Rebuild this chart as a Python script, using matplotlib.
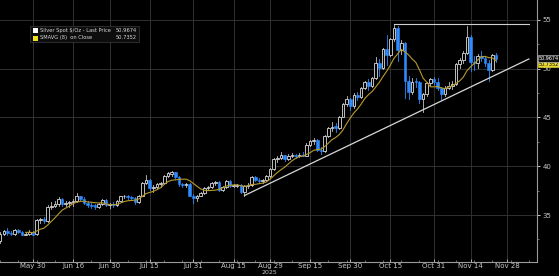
import numpy as np
import pandas as pd
import matplotlib
matplotlib.use("Agg")
import matplotlib.pyplot as plt
from matplotlib.patches import Rectangle

# ---------------- data ----------------
start_date = "2025-05-19"
end_date = "2025-11-25"

opens = [32.3, 33.1, 33.4, 33.2, 33.1, 33.5, 33.3, 33.0, 33.1, 33.3,
         33.1, 34.5, 34.6, 34.4, 35.8, 35.9, 36.1, 36.6, 36.1, 36.2,
         36.3, 36.4, 36.9, 36.6, 36.2, 36.0, 36.0, 35.8, 36.1, 36.5,
         36.0, 36.1, 36.0, 36.4, 36.9, 37.0, 36.8, 36.7, 36.3, 37.0,
         38.3, 38.6, 37.8, 37.9, 38.2, 38.3, 39.0, 39.2, 39.4, 38.9,
         38.2, 38.1, 38.2, 37.0, 36.7, 37.0, 37.3, 37.8, 37.9, 38.3,
         38.4, 37.6, 37.9, 38.5, 38.0, 38.0, 38.1, 37.4, 38.0, 38.1,
         38.9, 38.6, 38.5, 38.6, 39.0, 39.7, 40.7, 40.8, 41.2, 40.7,
         41.1, 41.2, 41.0, 41.2, 41.1, 42.2, 42.6, 42.7, 41.7, 41.6,
         43.1, 43.9, 44.1, 43.9, 45.1, 46.4, 46.9, 46.2, 47.3, 47.1,
         48.0, 48.6, 48.2, 49.0, 50.6, 50.1, 52.0, 51.4, 53.0, 54.2,
         51.9, 52.6, 48.7, 47.6, 48.7, 48.6, 46.9, 47.4, 48.5, 48.9,
         48.6, 48.0, 47.4, 48.0, 48.2, 48.4, 50.5, 50.9, 51.6, 53.3,
         50.7, 50.6, 51.3, 51.1, 50.6, 49.9, 51.4]
highs = [33.3, 33.5, 33.7, 33.4, 33.6, 33.6, 33.4, 33.3, 33.5, 33.4,
         34.6, 34.7, 34.8, 36.0, 36.3, 36.4, 36.8, 36.7, 36.4, 36.4,
         36.6, 37.3, 37.0, 36.8, 36.4, 36.3, 36.1, 36.2, 36.6, 36.6,
         36.2, 36.3, 36.5, 37.0, 37.1, 37.1, 37.0, 36.8, 37.1, 38.4,
         39.1, 38.7, 38.1, 38.3, 38.4, 39.1, 39.4, 39.5, 39.4, 39.0,
         38.3, 38.3, 38.3, 37.2, 37.1, 37.4, 37.9, 38.0, 38.4, 38.5,
         38.5, 38.0, 38.6, 38.6, 38.2, 38.2, 38.2, 38.1, 38.3, 39.0,
         39.0, 38.8, 38.7, 39.1, 39.8, 40.8, 41.0, 41.5, 41.2, 41.3,
         41.4, 41.3, 41.4, 41.5, 42.4, 42.7, 42.9, 42.8, 42.0, 43.2,
         44.0, 44.5, 44.4, 45.2, 46.5, 47.2, 47.0, 47.5, 47.6, 48.1,
         48.7, 48.9, 49.2, 51.2, 51.0, 52.1, 53.5, 53.2, 54.5, 54.4,
         52.9, 52.7, 49.3, 49.0, 49.0, 48.7, 47.5, 48.6, 49.1, 49.2,
         49.0, 48.1, 48.2, 48.6, 48.7, 50.6, 51.1, 51.8, 54.4, 53.5,
         51.3, 51.5, 51.8, 51.3, 50.9, 51.5, 51.6]
lows = [32.1, 33.0, 33.0, 32.9, 33.0, 33.2, 32.9, 32.9, 32.9, 32.9,
        33.0, 34.2, 34.2, 34.3, 35.6, 35.8, 35.9, 35.9, 35.9, 35.8,
        35.9, 36.3, 36.4, 36.1, 35.8, 35.7, 35.6, 35.7, 36.0, 35.9,
        35.7, 35.8, 35.9, 36.3, 36.7, 36.6, 36.5, 36.1, 36.2, 36.9,
        38.2, 37.6, 37.4, 37.7, 37.9, 38.2, 38.9, 39.0, 38.7, 38.0,
        37.9, 37.9, 36.9, 36.2, 36.4, 36.9, 37.2, 37.6, 37.8, 38.1,
        37.5, 37.5, 37.8, 37.9, 37.9, 37.9, 37.3, 37.0, 37.8, 38.0,
        38.5, 38.3, 38.3, 38.5, 38.9, 39.6, 40.4, 40.7, 40.5, 40.6,
        40.9, 40.8, 40.9, 41.0, 41.1, 42.1, 42.3, 41.6, 41.3, 41.5,
        43.0, 43.6, 43.5, 43.8, 45.0, 46.2, 45.8, 46.0, 46.8, 47.0,
        47.9, 47.8, 48.1, 48.9, 49.3, 50.0, 50.4, 51.3, 52.8, 50.8,
        51.5, 47.0, 46.9, 47.4, 48.1, 46.5, 45.6, 47.2, 48.2, 48.3,
        47.8, 46.9, 47.2, 47.9, 47.9, 48.3, 50.1, 50.6, 51.5, 49.8,
        49.9, 50.1, 50.8, 50.3, 48.7, 49.8, 50.7]
closes = [33.1, 33.4, 33.2, 33.1, 33.5, 33.3, 33.0, 33.1, 33.3, 33.0,
          34.5, 34.6, 34.4, 35.8, 35.9, 36.1, 36.6, 36.1, 36.2, 36.3,
          36.4, 36.9, 36.6, 36.2, 36.0, 35.9, 35.8, 36.1, 36.5, 36.0,
          36.1, 36.0, 36.4, 36.9, 37.0, 36.8, 36.7, 36.3, 37.0, 38.3,
          38.6, 37.8, 37.9, 38.2, 38.3, 39.0, 39.3, 39.4, 38.9, 38.2,
          38.1, 38.2, 37.0, 36.7, 37.0, 37.3, 37.8, 37.9, 38.3, 38.4,
          37.6, 37.9, 38.5, 38.0, 38.05, 38.1, 37.4, 38.0, 38.1, 38.9,
          38.6, 38.5, 38.6, 39.0, 39.7, 40.7, 40.8, 41.2, 40.7, 41.1,
          41.2, 41.0, 41.2, 41.1, 42.2, 42.6, 42.7, 41.7, 41.6, 43.1,
          43.9, 44.0, 43.9, 45.1, 46.4, 46.9, 46.2, 47.3, 47.1, 48.0,
          48.6, 48.2, 49.0, 50.6, 50.1, 52.0, 51.4, 53.0, 54.2, 51.9,
          52.6, 48.7, 47.6, 48.6, 48.6, 46.9, 47.4, 48.5, 48.9, 48.6,
          48.0, 47.4, 48.0, 48.2, 48.4, 50.5, 50.9, 51.6, 53.3, 50.7,
          50.6, 51.3, 51.1, 50.6, 49.9, 51.4, 50.9674]

tick_dates = ["2025-05-30", "2025-06-16", "2025-06-30", "2025-07-15", "2025-07-31",
              "2025-08-15", "2025-08-29", "2025-09-15", "2025-09-30", "2025-10-15",
              "2025-10-31", "2025-11-14", "2025-11-28"]
tick_labels = ["May 30", "Jun 16", "Jun 30", "Jul 15", "Jul 31", "Aug 15", "Aug 29",
               "Sep 15", "Sep 30", "Oct 15", "Oct 31", "Nov 14", "Nov 28"]
y_ticks = [35, 40, 45, 50, 55]

trend_dates = ["2025-08-20", "2025-12-08"]
trend_values = [37.0, 51.0]
resist_dates = ["2025-10-16", "2025-12-08"]
resist_values = [54.55, 54.55]

sma_window = 8
last_price = 50.9674
last_sma = 50.7352
series_name = "Silver Spot $/Oz - Last Price"
sma_name = "SMAVG (8)  on Close"

# ---------------- helpers ----------------
def pos(d):
    return float(np.busday_count(np.datetime64(start_date), np.datetime64(d)))

n = len(closes)
xs = np.arange(n)
o = np.array(opens); h = np.array(highs); l = np.array(lows); c = np.array(closes)
sma = pd.Series(c).rolling(sma_window).mean().values

W, H = 559, 276
fig = plt.figure(figsize=(W / 100, H / 100), dpi=100, facecolor="black")
ax_right_px = 537
ax_bottom_px = 262
ax = fig.add_axes([0, (H - ax_bottom_px) / H, ax_right_px / W, ax_bottom_px / H])
ax.set_facecolor("black")

px_per_day = 3.646
ax.set_xlim(-0.05, -0.05 + ax_right_px / px_per_day)
ax.set_ylim(30.18, 57.05)

# grid
for yt in y_ticks:
    ax.axhline(yt, color="#303030", lw=0.7, zorder=0)
for d in tick_dates:
    ax.axvline(pos(d), color="#303030", lw=0.7, zorder=0)

blue = "#2f8cff"
bw = 0.72
for i in range(n):
    up = c[i] >= o[i]
    ax.plot([xs[i], xs[i]], [l[i], h[i]], color=("#c4c4c4" if up else blue), lw=0.6, zorder=2)
    bot = min(o[i], c[i]); ht = max(abs(c[i] - o[i]), 0.07)
    if up:
        ax.add_patch(Rectangle((xs[i] - bw / 2, bot), bw, ht, facecolor="black",
                               edgecolor="#dcdcdc", lw=0.6, zorder=3))
    else:
        ax.add_patch(Rectangle((xs[i] - bw / 2, bot), bw, ht, facecolor=blue,
                               edgecolor=blue, lw=0.4, zorder=3))

ax.plot(xs, sma, color="#b89a2c", lw=0.8, zorder=4)

# trend and resistance lines
ax.plot([pos(d) for d in trend_dates], trend_values, color="#d8d8d8", lw=0.9, zorder=5)
ax.plot([pos(d) for d in resist_dates], resist_values, color="#cfcfcf", lw=0.8, zorder=5)

# axes styling
for s in ["top", "left"]:
    ax.spines[s].set_visible(False)
for s in ["right", "bottom"]:
    ax.spines[s].set_color("#9a9a9a")
    ax.spines[s].set_linewidth(0.8)

ax.yaxis.tick_right()
ax.set_yticks(y_ticks)
ax.set_yticklabels([str(v) for v in y_ticks])
ax.set_yticks([32.5, 37.5, 42.5, 47.5, 52.5], minor=True)
ax.tick_params(axis="y", which="major", colors="#c8c8c8", labelsize=5, length=2.5,
               width=0.7, pad=1.5)
ax.tick_params(axis="y", which="minor", colors="#9a9a9a", length=1.5, width=0.5)

ax.set_xticks([pos(d) for d in tick_dates])
ax.set_xticklabels(tick_labels)
minor_x = [p for p in np.arange(0, 147, 5)]
ax.set_xticks(minor_x, minor=True)
ax.tick_params(axis="x", which="major", colors="#c8c8c8", labelsize=5, length=2,
               width=0.6, pad=1, direction="in")
ax.tick_params(axis="x", which="minor", colors="#9a9a9a", length=1.2, width=0.5,
               direction="in")

fig.text(pos("2025-08-29") * px_per_day / W, (H - 272) / H, "2025", color="#c8c8c8",
         fontsize=4.5, ha="center", va="center")

# legend box
lx0, ly0, lx1, ly1 = 30, 26, 139, 42
fig.patches.append(Rectangle((lx0 / W, 1 - ly1 / H), (lx1 - lx0) / W, (ly1 - ly0) / H,
                             transform=fig.transFigure, facecolor="#0d0d0d",
                             edgecolor="#3a3a3a", lw=0.5, zorder=10))
rows = [(series_name, last_price, "#ffffff", 30.5), (sma_name, last_sma, "#f0e020", 38.0)]
for name, val, colr, yy in rows:
    fig.patches.append(Rectangle((33 / W, 1 - (yy + 2.5) / H), 4.5 / W, 5 / H,
                                 transform=fig.transFigure, facecolor=colr,
                                 edgecolor="none", zorder=11))
    fig.text(40 / W, 1 - yy / H, name, color="#d8d8d8", fontsize=3.7, va="center",
             ha="left", zorder=12)
    fig.text(137 / W, 1 - yy / H, f"{val:.4f}", color="#d8d8d8", fontsize=3.7,
             va="center", ha="right", zorder=12)

# right-side price tags
ax.annotate(f"{last_sma:.4f}", xy=(1.0, last_sma), xycoords=("axes fraction", "data"),
            xytext=(1.0, -1.8), textcoords="offset points", fontsize=3.5, color="black",
            va="center", ha="left",
            bbox=dict(boxstyle="square,pad=0.12", fc="#e8d830", ec="#e8d830", lw=0.4),
            annotation_clip=False, zorder=6)
ax.annotate(f"{last_price:.4f}", xy=(1.0, last_price), xycoords=("axes fraction", "data"),
            xytext=(1.0, 0.6), textcoords="offset points", fontsize=3.5, color="white",
            va="center", ha="left",
            bbox=dict(boxstyle="square,pad=0.12", fc="#111111", ec="#e0e0e0", lw=0.4),
            annotation_clip=False, zorder=7)

fig.savefig("out.png", dpi=100, facecolor="black")
